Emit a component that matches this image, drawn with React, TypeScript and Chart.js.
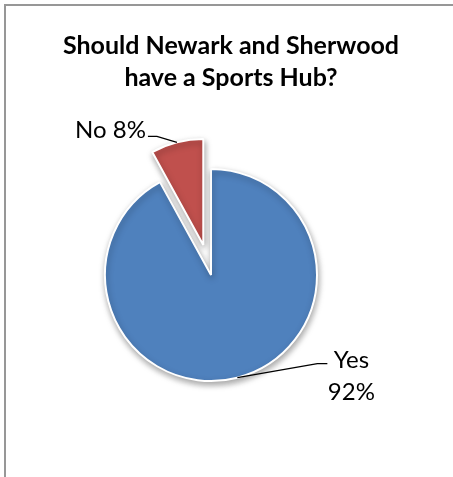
import React, { useEffect, useRef } from 'react';
import { Chart, registerables } from 'chart.js';

Chart.register(...registerables);

// ---- data ----
const categories = ['Yes', 'No'];
const values = [92, 8];
const percentLabels = ['92%', '8%'];
const sliceColors = ['#4F81BD', '#C0504D'];
const titleLines = ['Should Newark and Sherwood', 'have a Sports Hub?'];

// ---- style constants ----
const EXPLODE = [0, 31];
const PIE_RADIUS = 106;
const TITLE_FONT = 'bold 25px Lato, "Open Sans", sans-serif';
const LABEL_FONT = '24px Lato, "Open Sans", sans-serif';

// label layout relative to the slice's outer mid-point anchor
const LABEL_LAYOUT = [
  { elbow: [80, -14], end: [90, -14], align: 'center', textX: 114, baselines: [-10, 22], split: true },
  { elbow: [-20, -6], end: [-29, -6], align: 'right', textX: -31, baselines: [-4], split: false },
];

const explodePlugin = {
  id: 'explodeSlices',
  afterDatasetUpdate(chart: any, args: any) {
    const meta = chart.getDatasetMeta(args.index);
    meta.data.forEach((arc: any, i: number) => {
      const d = EXPLODE[i] || 0;
      if (!d) return;
      const mid = (arc.startAngle + arc.endAngle) / 2;
      arc.x += Math.cos(mid) * d;
      arc.y += Math.sin(mid) * d;
    });
  },
};

const shadowPlugin = {
  id: 'pieShadow',
  beforeDatasetsDraw(chart: any) {
    const ctx = chart.ctx;
    ctx.save();
    ctx.shadowColor = 'rgba(0,0,0,0.35)';
    ctx.shadowBlur = 6;
    ctx.shadowOffsetX = 1;
    ctx.shadowOffsetY = 3;
  },
  afterDatasetsDraw(chart: any) {
    chart.ctx.restore();
  },
};

const titlePlugin = {
  id: 'customTitle',
  afterDraw(chart: any) {
    const ctx = chart.ctx;
    ctx.save();
    ctx.font = TITLE_FONT;
    ctx.fillStyle = '#000';
    ctx.textAlign = 'center';
    ctx.textBaseline = 'alphabetic';
    titleLines.forEach((line, i) => {
      ctx.fillText(line, 231, 54 + i * 32);
    });
    ctx.restore();
  },
};

const labelPlugin = {
  id: 'sliceLabels',
  afterDraw(chart: any) {
    const ctx = chart.ctx;
    const meta = chart.getDatasetMeta(0);
    ctx.save();
    ctx.font = LABEL_FONT;
    ctx.fillStyle = '#000';
    ctx.strokeStyle = '#000';
    ctx.lineWidth = 1.3;
    meta.data.forEach((arc: any, i: number) => {
      const lay = LABEL_LAYOUT[i];
      if (!lay) return;
      const mid = (arc.startAngle + arc.endAngle) / 2;
      const ax = arc.x + Math.cos(mid) * arc.outerRadius;
      const ay = arc.y + Math.sin(mid) * arc.outerRadius;
      ctx.beginPath();
      ctx.moveTo(ax, ay);
      ctx.lineTo(ax + lay.elbow[0], ay + lay.elbow[1]);
      ctx.lineTo(ax + lay.end[0], ay + lay.end[1]);
      ctx.stroke();
      const lines = lay.split
        ? [categories[i], percentLabels[i]]
        : [categories[i] + ' ' + percentLabels[i]];
      ctx.textAlign = lay.align;
      ctx.textBaseline = 'alphabetic';
      lines.forEach((t, k) => {
        ctx.fillText(t, ax + lay.textX, ay + lay.baselines[k]);
      });
    });
    ctx.restore();
  },
};

export default function App() {
  const ref = useRef<HTMLCanvasElement>(null);
  useEffect(() => {
    if (!ref.current) return;
    const chart = new Chart(ref.current, {
      type: 'pie',
      data: {
        labels: categories,
        datasets: [
          {
            data: values,
            backgroundColor: sliceColors,
            borderColor: '#ffffff',
            borderWidth: 2,
            radius: PIE_RADIUS,
          } as any,
        ],
      },
      options: {
        animation: false,
        responsive: false,
        events: [],
        radius: PIE_RADIUS,
        layout: { padding: { left: 0, right: 31, top: 100, bottom: 27 } },
        plugins: {
          legend: { display: false },
          title: { display: false },
          tooltip: { enabled: false },
        },
      } as any,
      plugins: [explodePlugin, shadowPlugin, titlePlugin, labelPlugin],
    });
    return () => chart.destroy();
  }, []);
  return (
    <div style={{ position: 'absolute', left: 0, top: 0, width: 453, height: 477, overflow: 'hidden', background: '#fff' }}>
      <div style={{ position: 'absolute', left: 4, top: 4, width: 480, height: 500, border: '2px solid #979797' }} />
      <canvas ref={ref} width={453} height={477} style={{ position: 'absolute', left: 0, top: 0 }} />
    </div>
  );
}
